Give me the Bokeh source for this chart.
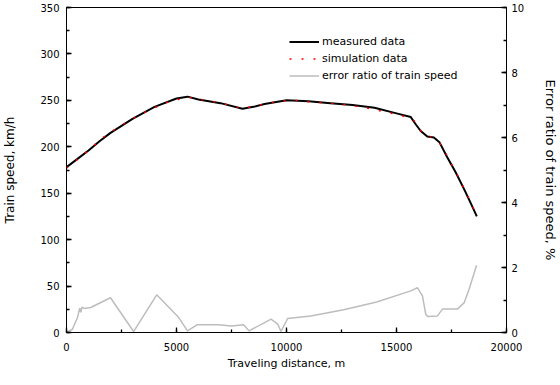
from bokeh.plotting import figure
from bokeh.models import Range1d, LinearAxis, SingleIntervalTicker, Legend, LegendItem
from bokeh.embed import file_html
from bokeh.resources import INLINE

# measured train speed (km/h) vs distance (m)
meas_dist = [0, 500, 1000, 1500, 2000, 3000, 4000, 5000, 5500, 6000, 7000, 8000, 8500, 9000,
             10000, 11000, 12000, 13000, 14000, 15000, 15650, 15880, 16100, 16400, 16700,
             16950, 17300, 17700, 18100, 18400, 18650]
meas_speed = [178, 187, 196, 206, 215, 230, 243, 252, 254, 251, 247, 241, 243, 246,
              250, 249, 247, 245, 242, 236, 232, 224, 217, 211, 210,
              205, 189, 172, 153, 138, 125]

# simulated train speed (km/h)
sim_dist = [0, 800, 1600, 2400, 3200, 4000, 4800, 5600, 6400, 7200, 8000, 8800, 9600,
            10400, 11200, 12000, 12800, 13600, 14400, 15200, 15800, 16200, 16600, 17000,
            17400, 17800, 18200, 18650]
sim_speed = [177, 192, 209, 222, 233, 242, 250, 253, 250, 246, 241, 245, 249,
             250, 248, 247, 245, 242, 238, 234, 228, 214, 210, 203,
             186, 168, 149, 126]

# error ratio of train speed (%)
err_dist = [0, 270, 500, 600, 650, 700, 800, 1100, 1400, 2000, 3050, 4100, 5100, 5500,
            5950, 6900, 7500, 8050, 8300, 9300, 9600, 9750, 10050, 11100, 12600, 14100,
            15650, 15950, 16180, 16330, 16410, 16860, 17090, 17770, 18080, 18300, 18640]
err_ratio = [0, 0.1, 0.46, 0.75, 0.62, 0.78, 0.74, 0.77, 0.87, 1.07, 0.03, 1.16, 0.46, 0.05,
             0.24, 0.24, 0.2, 0.24, 0.05, 0.41, 0.26, 0.03, 0.43, 0.51, 0.7, 0.94,
             1.28, 1.38, 1.13, 0.56, 0.49, 0.51, 0.72, 0.72, 0.92, 1.33, 2.07]

FONT = "DejaVu Sans"

p = figure(width=544, height=369, output_backend="svg", toolbar_location=None,
           x_range=Range1d(0, 20000), y_range=Range1d(0, 350),
           min_border_left=61, min_border_right=43, min_border_top=7, min_border_bottom=37,
           frame_width=440, frame_height=325)
p.extra_y_ranges = {"err": Range1d(0, 10)}
p.grid.visible = False
p.outline_line_color = "black"
p.outline_line_width = 1
p.background_fill_color = "white"
p.border_fill_color = "white"

def style_axis(ax, title, size, standoff, label_standoff):
    ax.axis_label = title
    ax.axis_label_text_font = FONT
    ax.axis_label_text_font_style = "normal"
    ax.axis_label_text_font_size = size
    ax.axis_label_text_color = "black"
    ax.axis_label_standoff = standoff
    ax.major_label_text_font = FONT
    ax.major_label_text_font_size = "10px"
    ax.major_label_text_color = "black"
    ax.major_label_standoff = label_standoff
    ax.major_tick_in = 5
    ax.major_tick_out = 0
    ax.minor_tick_in = 3
    ax.minor_tick_out = 0
    ax.axis_line_color = "black"
    ax.major_tick_line_color = "black"
    ax.minor_tick_line_color = "black"
    ax.major_tick_line_width = 1.3
    ax.minor_tick_line_width = 1.3

p.xaxis.ticker = SingleIntervalTicker(interval=5000, num_minor_ticks=2)
p.yaxis.ticker = SingleIntervalTicker(interval=50, num_minor_ticks=2)
style_axis(p.xaxis[0], "Traveling distance, m", "11px", 3, 10)
style_axis(p.yaxis[0], "Train speed, km/h", "12px", 20, 7)

raxis = LinearAxis(y_range_name="err", ticker=SingleIntervalTicker(interval=2, num_minor_ticks=2))
style_axis(raxis, "Error ratio of train speed, %", "13px", 16, 5)
p.add_layout(raxis, "right")

r_err = p.line(err_dist, err_ratio, y_range_name="err", line_color="#bdbdbd", line_width=1.5)
r_meas = p.line(meas_dist, meas_speed, line_color="black", line_width=2)
r_sim = p.line(sim_dist, sim_speed, line_color="red", line_width=1.5, line_dash="2 10")

legend = Legend(items=[LegendItem(label="measured data", renderers=[r_meas]),
                       LegendItem(label="simulation data", renderers=[r_sim]),
                       LegendItem(label="error ratio of train speed", renderers=[r_err])],
                location=(223, 248), padding=0, margin=0, spacing=0,
                glyph_width=30, glyph_height=17, label_height=17, label_standoff=3,
                label_text_font=FONT, label_text_font_size="11px", label_text_color="black",
                border_line_color=None, background_fill_alpha=0)
p.add_layout(legend, "center")

open("out.html", "w").write(file_html(p, INLINE))
